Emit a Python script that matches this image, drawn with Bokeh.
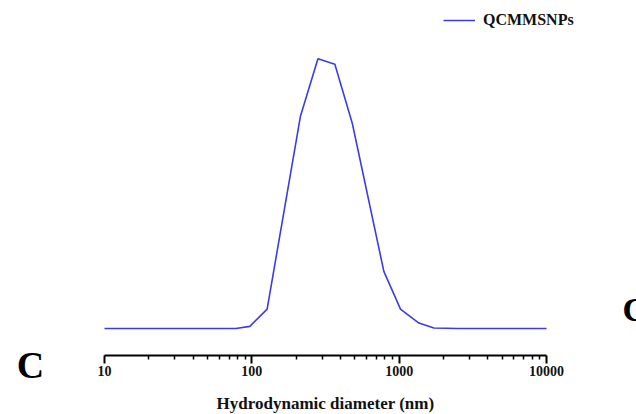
from bokeh.plotting import figure
from bokeh.models import (FixedTicker, NumeralTickFormatter, Range1d, Label,
                          Legend, LegendItem)
from bokeh.embed import file_html
from bokeh.resources import INLINE

# Data (hydrodynamic diameter nm, intensity a.u.)
diameter = [10, 78, 97, 127, 214, 281, 366, 481, 787, 1021, 1361, 1722, 2500, 10000]
intensity = [0.0, 0.0, 0.2, 1.8, 19.7, 25.0, 24.5, 19.0, 5.3, 1.8, 0.5, 0.05, 0.0, 0.0]
major_ticks = [10, 100, 1000, 10000]
minor_ticks = [m * d for d in (10, 100, 1000) for m in range(2, 10)]
series_name = "QCMMSNPs"
x_label = "Hydrodynamic diameter (nm)"
panel_letter = "C"

SERIF = "Liberation Serif"
BLUE = "#3c3ce0"

# full-canvas frame; the axis is drawn at a fixed location inside it
p = figure(frame_width=636, frame_height=414, x_axis_type="log",
           x_range=Range1d(10 ** 0.2941, 10 ** 4.6109),
           y_range=Range1d(-7.97, 30.40),
           output_backend="svg", toolbar_location=None,
           min_border=0)
p.outline_line_color = None
p.xgrid.visible = False
p.ygrid.visible = False
p.yaxis.visible = False
p.background_fill_color = "white"
p.border_fill_color = "white"

r = p.line(diameter, intensity, line_color=BLUE, line_width=1.6)

ax = p.xaxis[0]
ax.fixed_location = -2.5
ax.bounds = (major_ticks[0], major_ticks[-1])
ax.ticker = FixedTicker(ticks=major_ticks, minor_ticks=minor_ticks)
ax.formatter = NumeralTickFormatter(format="0")
ax.axis_line_width = 2
ax.axis_line_color = "black"
ax.major_tick_line_width = 2
ax.major_tick_out = 8
ax.major_tick_in = 0
ax.minor_tick_line_width = 1.5
ax.minor_tick_out = 4
ax.minor_tick_in = 0
ax.major_label_text_font = SERIF
ax.major_label_text_font_style = "bold"
ax.major_label_text_font_size = "14px"
ax.major_label_text_color = "#111111"
ax.major_label_standoff = 3
ax.axis_label = x_label
ax.axis_label_text_font = SERIF
ax.axis_label_text_font_style = "bold"
ax.axis_label_text_font_size = "17px"
ax.axis_label_text_color = "#111111"
ax.axis_label_standoff = 14

legend = Legend(items=[LegendItem(label=series_name, renderers=[r])],
                location=(443, 384), background_fill_alpha=0,
                border_line_color=None, padding=0, margin=0,
                glyph_width=32, glyph_height=20, label_height=20,
                label_standoff=8,
                label_text_font=SERIF, label_text_font_style="bold",
                label_text_font_size="16px", label_text_color="#111111")
p.add_layout(legend)

p.add_layout(Label(x=3.146, y=-3.42, text=panel_letter, text_font=SERIF,
                   text_font_style="bold", text_font_size="38px",
                   text_color="black",
                   text_align="center", text_baseline="middle"))
p.add_layout(Label(x=32800, y=1.76, text=panel_letter, text_font=SERIF,
                   text_font_style="bold", text_font_size="34px",
                   text_color="black",
                   text_align="left", text_baseline="middle"))

open("out.html", "w").write(file_html(p, INLINE))
